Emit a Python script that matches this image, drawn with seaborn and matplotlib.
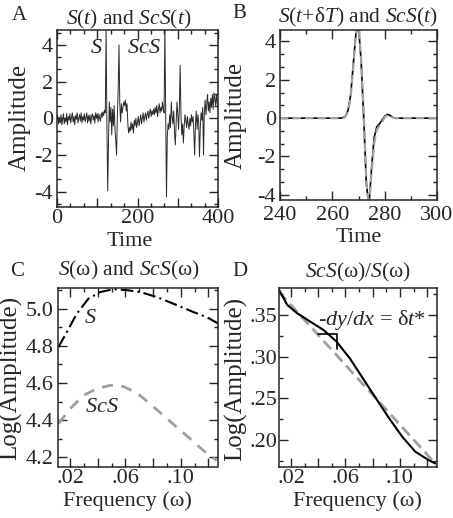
"""
Four-panel S / ScS waveform and spectral-ratio figure.
"""

import numpy as np
import pandas as pd
import matplotlib
matplotlib.use("Agg")
import matplotlib.pyplot as plt
from matplotlib import font_manager
from matplotlib.ticker import MultipleLocator, FuncFormatter
import seaborn as sns

# ---- panel A: recorded trace, one sample every 2 time units ----
trace_step = 2.0
trace_amp = [
    -0.10, 0.15, -0.30, 0.05, -0.25, 0.20, -0.35, -0.05, 0.25, -0.30,   # 0-18
    0.00, -0.20, 0.25, -0.35, 0.10, -0.10, 0.25, -0.25, 0.05, 0.30,     # 20-38
    -0.20, 0.10, -0.35, 0.15, -0.05, 0.30, -0.25, 0.00, 0.20, -0.15,    # 40-58
    0.30, -0.25, 0.10, -0.10, 0.25, -0.20, 0.05, 0.30, -0.25, 0.15,     # 60-78
    -0.15, 0.20, -0.30, 0.10, 0.25, -0.10, 0.15, -0.25, 0.30, 0.00,     # 80-98
    0.25, -0.20, 0.25, 0.00, -0.15, 0.30, 0.05, 0.35, 0.15, 0.45,       # 100-118
    0.30, 4.95, -0.50, -3.95, -1.20, 0.90, -0.20, 0.60, -0.90, 0.50,    # 120-138
    -0.40, 0.70, -0.60, -1.20, -2.00, 0.20, 1.60, 4.00, 0.80, -0.20,    # 140-158
    0.80, 0.30, 0.60, 0.90, 0.70, 1.00, 0.40, 0.80, -0.30, -0.80,       # 160-178
    -0.50, -0.70, -0.20, -0.60, -0.30, -0.80, -0.10, -0.40, 0.00, -0.50,  # 180-198
    -0.20, 0.10, -0.40, -0.10, 0.20, -0.30, 0.00, 0.30, -0.20, 0.10,    # 200-218
    0.30, -0.10, 0.20, 0.40, 0.00, 0.30, 0.50, 0.10, 0.40, 0.20,        # 220-238
    0.50, 0.20, 0.60, 0.30, 0.70, 0.10, 0.50, 0.80, 0.30, 0.60,         # 240-258
    0.40, 0.90, 0.50, 0.30, 4.95, 0.50, -4.30, -1.00, -0.30, -0.60,     # 260-278
    0.20, -0.50, 0.90, 0.10, -0.30, 0.40, -0.80, -1.45, -0.20, 0.90,    # 280-298
    0.30, -0.60, 0.60, 2.90, 0.20, -0.90, -0.30, -1.35, -0.40, 0.20,    # 300-318
    -0.10, -0.50, 0.10, -0.30, -0.60, 0.00, -0.40, 0.20, -0.20, 0.10,   # 320-338
    -0.80, -2.00, -0.30, 0.40, -0.60, 0.20, -0.20, -2.10, -0.50, 0.30,  # 340-358
    -0.10, 0.60, -2.00, 0.30, 1.00, 0.20, 0.80, 1.30, 0.40, 0.90,       # 360-378
    0.30, 1.10, 0.60, 1.30, 0.50, 1.40, 1.10, 0.70, 1.30, 0.80,         # 380-398
    0.50,                                                                # 400
]

# ---- panel B: aligned pulses ----
pulse_time = [240, 263, 264, 265, 266, 267, 268, 269, 270, 271, 272, 273,
              274, 275, 276, 277, 278, 279, 280, 281, 282, 283, 284, 300]
scs_pulse = [0, 0, 0.02, 0.10, 0.40, 1.20, 2.80, 4.40, 4.80, 3.00, 0.00, -3.40,
             -4.60, -2.60, -1.00, -0.45, -0.30, -0.10, 0.10, 0.20, 0.15, 0.05, 0, 0]
s_shifted = [0, 0, 0.00, 0.08, 0.35, 1.10, 2.70, 4.40, 4.80, 3.10, 0.20, -3.30,
             -4.60, -2.80, -1.30, -0.60, -0.40, -0.20, 0.05, 0.15, 0.10, 0.05, 0, 0]

# ---- panel C: amplitude spectra ----
freq_c = [0.0115, 0.0176, 0.0248, 0.0332, 0.0417, 0.0513, 0.0610,
          0.0706, 0.0827, 0.0947, 0.1092, 0.1188, 0.1272]
s_spec = [4.793, 4.874, 4.973, 5.054, 5.090, 5.105, 5.100,
          5.090, 5.063, 5.027, 4.982, 4.955, 4.920]
freq_c2 = [0.0115, 0.0200, 0.0296, 0.0393, 0.0489, 0.0585, 0.0682,
           0.0778, 0.0875, 0.0971, 0.1068, 0.1164, 0.1261]
scs_spec = [4.380, 4.461, 4.533, 4.569, 4.587, 4.581, 4.547,
            4.488, 4.425, 4.362, 4.300, 4.236, 4.182]

# ---- panel D: spectral ratio and linear fit ----
freq_d = [0.0113, 0.0173, 0.0246, 0.0342, 0.0439, 0.0535, 0.0632,
          0.0728, 0.0824, 0.0921, 0.1017, 0.1113, 0.1210, 0.1258]
ratio = [0.380, 0.362, 0.352, 0.342, 0.332, 0.318, 0.298,
         0.274, 0.250, 0.226, 0.204, 0.186, 0.176, 0.172]
fit_freq = [0.011, 0.127]
fit_ratio = [0.378, 0.170]
tri_freq = [0.0397, 0.0540, 0.0540]
tri_ratio = [0.327, 0.327, 0.309]

W, H = 453, 518
GRAY = "#a0a0a0"

sns.set_style("ticks")
serif_names = {f.name for f in font_manager.fontManager.ttflist}
SERIF = "Liberation Serif" if "Liberation Serif" in serif_names else "DejaVu Serif"
plt.rcParams.update({
    "font.family": SERIF,
    "mathtext.fontset": "custom",
    "mathtext.rm": SERIF,
    "mathtext.it": SERIF + ":italic",
    "axes.unicode_minus": False,
    "axes.linewidth": 1.1,
    "lines.scale_dashes": False,
    "xtick.direction": "in",
    "ytick.direction": "in",
    "xtick.top": True,
    "ytick.right": True,
    "xtick.labelsize": 16,
    "ytick.labelsize": 16,
    "xtick.major.size": 6.5,
    "ytick.major.size": 6.5,
    "xtick.minor.size": 3.2,
    "ytick.minor.size": 3.2,
    "xtick.major.width": 1.0,
    "ytick.major.width": 1.0,
    "xtick.minor.width": 1.0,
    "ytick.minor.width": 1.0,
    "xtick.major.pad": 2,
    "ytick.major.pad": 3,
})


def box(fig, x0, y0, x1, y1):
    """Add axes from a pixel box (left, top, right, bottom)."""
    return fig.add_axes([x0 / W, 1 - y1 / H, (x1 - x0) / W, (y1 - y0) / H])


def ptext(fig, x, y, s, size=16, **kw):
    """Put text at pixel position in the figure."""
    fig.text(x / W, 1 - y / H, s, fontsize=size, ha="center", va="center", **kw)


def frac_fmt(digits, skip=()):
    def f(v, _):
        if any(abs(v - s) < 1e-9 for s in skip):
            return ""
        return f"{v:.{digits}f}".replace("0.", ".", 1) if abs(v) < 1 else f"{v:.{digits}f}"
    return FuncFormatter(f)


fig = plt.figure(figsize=(W / 100, H / 100), dpi=100)

# A
ax = box(fig, 57, 30, 218, 206.7)
df_a = pd.DataFrame({"t": np.arange(len(trace_amp)) * trace_step, "amp": trace_amp})
sns.lineplot(data=df_a, x="t", y="amp", ax=ax, color="#2a2a2a", lw=0.7, errorbar=None)
ax.set_xlim(0, 400)
ax.set_ylim(-4.82, 4.82)
ax.xaxis.set_major_locator(MultipleLocator(100))
ax.xaxis.set_minor_locator(MultipleLocator(100 / 3))
ax.xaxis.set_major_formatter(FuncFormatter(lambda v, _: "" if int(round(v)) % 200 else f"{int(round(v))}"))
ax.yaxis.set_major_locator(MultipleLocator(2))
ax.yaxis.set_minor_locator(MultipleLocator(2 / 3))
ax.text(98.6, 3.82, "$S$", fontsize=16, ha="center", va="center")
ax.text(216.6, 3.82, "$ScS$", fontsize=16, ha="center", va="center")

# B
ax = box(fig, 280, 30, 437, 200)
sns.lineplot(x=pulse_time, y=scs_pulse, ax=ax, color="black", lw=1.2, errorbar=None)
sns.lineplot(x=pulse_time, y=s_shifted, ax=ax, color=GRAY, lw=1.6,
             linestyle=(0, (6, 3)), errorbar=None)
ax.set_xlim(240, 300)
ax.set_ylim(-4.27, 4.6)
ax.xaxis.set_major_locator(MultipleLocator(20))
ax.xaxis.set_minor_locator(MultipleLocator(10))
ax.yaxis.set_major_locator(MultipleLocator(2))
ax.yaxis.set_minor_locator(MultipleLocator(2 / 3))
ax.tick_params(axis="x", which="major", pad=4)

# C
ax = box(fig, 57.7, 288.3, 218, 466.5)
sns.lineplot(x=freq_c, y=s_spec, ax=ax, color="black", lw=1.5,
             linestyle=(0, (9, 3, 1.5, 3)), errorbar=None)
sns.lineplot(x=freq_c2, y=scs_spec, ax=ax, color=GRAY, lw=2.0,
             linestyle=(0, (8, 6)), errorbar=None)
ax.set_xlim(0.011, 0.127)
ax.set_ylim(4.15, 5.11)
ax.xaxis.set_major_locator(MultipleLocator(0.02))
ax.xaxis.set_minor_locator(MultipleLocator(0.01))
ax.xaxis.set_major_formatter(frac_fmt(2, skip=(0.04, 0.08, 0.12)))
ax.yaxis.set_major_locator(MultipleLocator(0.2))
ax.yaxis.set_minor_locator(MultipleLocator(0.1))
ax.yaxis.set_major_formatter(FuncFormatter(lambda v, _: f"{v:.1f}"))
ax.text(0.0345, 4.946, "$S$", fontsize=16, ha="center", va="center")
ax.text(0.0429, 4.47, "$ScS$", fontsize=16, ha="center", va="center")

# D
ax = box(fig, 278.7, 288.3, 436.7, 466.7)
sns.lineplot(x=fit_freq, y=fit_ratio, ax=ax, color=GRAY, lw=2.0,
             linestyle=(0, (8, 4)), errorbar=None)
sns.lineplot(x=freq_d, y=ratio, ax=ax, color="black", lw=1.5, errorbar=None)
ax.plot(tri_freq, tri_ratio, color="black", lw=1.2)
ax.set_xlim(0.011, 0.127)
ax.set_ylim(0.168, 0.382)
ax.xaxis.set_major_locator(MultipleLocator(0.02))
ax.xaxis.set_minor_locator(MultipleLocator(0.01))
ax.xaxis.set_major_formatter(frac_fmt(2, skip=(0.04, 0.08, 0.12)))
ax.yaxis.set_major_locator(MultipleLocator(0.05))
ax.yaxis.set_minor_locator(MultipleLocator(0.025))
ax.yaxis.set_major_formatter(frac_fmt(2))
ax.tick_params(axis="y", which="major", pad=1)
ax.text(0.0797, 0.344, "-$dy$/$dx$ = δ$t$*", fontsize=16, ha="center", va="center")

for a in fig.axes:
    a.set_xlabel("")
    a.set_ylabel("")

# panel letters, titles, axis labels
for x, y, s in [(19, 15.5, "A"), (239, 13.5, "B"), (17.5, 271, "C"), (239.5, 271, "D")]:
    ptext(fig, x, y, s, size=15)
ptext(fig, 129, 19, "$S$($t$) and $ScS$($t$)", size=15.5)
ptext(fig, 357.5, 17.5, "$S$($t$+δ$T$) and $ScS$($t$)", size=15.5)
ptext(fig, 128.5, 270.5, "$S$(ω) and $ScS$(ω)", size=15.5)
ptext(fig, 358, 272, "$ScS$(ω)/$S$(ω)", size=15.5)
ptext(fig, 130, 242, "Time")
ptext(fig, 358.5, 238, "Time")
ptext(fig, 127.5, 501, "Frequency (ω)")
ptext(fig, 357, 501, "Frequency (ω)")
ptext(fig, 20, 117, "Amplitude", size=18, rotation=90)
ptext(fig, 236, 115, "Amplitude", size=18, rotation=90)
ptext(fig, 11, 378, "Log(Amplitude)", size=18, rotation=90)
ptext(fig, 236, 379, "Log(Amplitude)", size=18, rotation=90)

fig.savefig("out.png", dpi=100)
